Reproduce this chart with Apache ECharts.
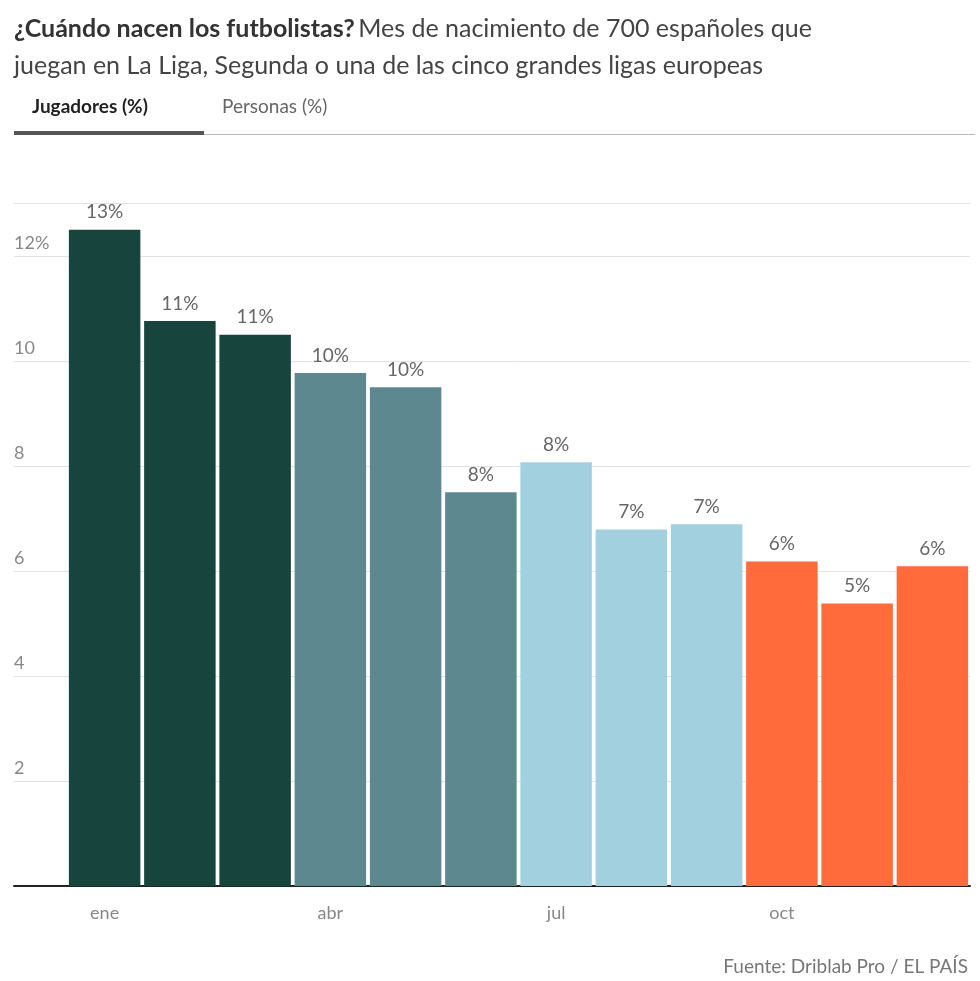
<!DOCTYPE html>
<html>
<head>
<meta charset="utf-8">
<script src="https://cdn.jsdelivr.net/npm/echarts@6/dist/echarts.min.js"></script>
<style>html,body{margin:0;padding:0;background:#fff}</style>
</head>
<body>
<div id="chart" style="width:980px;height:981px"></div>
<script>
var meses = ['ene','feb','mar','abr','may','jun','jul','ago','sep','oct','nov','dic'];
var jugadores = [12.5, 10.76, 10.5, 9.77, 9.5, 7.5, 8.07, 6.79, 6.89, 6.18, 5.38, 6.09];
var colores = ['#17453e','#17453e','#17453e','#5e8890','#5e8890','#5e8890',
               '#a2d0df','#a2d0df','#a2d0df','#ff6b3a','#ff6b3a','#ff6b3a'];
var etiquetasMes = ['ene','abr','jul','oct'];

var chart = echarts.init(document.getElementById('chart'));
var fuente = 'Lato, "Open Sans", sans-serif';

var option = {
  animation: false,
  textStyle: { fontFamily: fuente },
  grid: [
    { left: 67, right: 10, top: 203.5, bottom: 95 },
    { left: 14, width: 53, top: 203.5, bottom: 95 }
  ],
  xAxis: [
    {
      type: 'category', data: meses, gridIndex: 0,
      axisLine: { lineStyle: { color: '#222', width: 2 } },
      axisTick: { show: false },
      axisLabel: {
        color: '#888', fontSize: 18, margin: 18, align: 'center',
        formatter: function (v) { return etiquetasMes.indexOf(v) >= 0 ? v : ''; }
      }
    },
    { type: 'value', gridIndex: 1, min: 0, max: 1,
      axisLine: { show: true, onZero: false, lineStyle: { color: '#222', width: 2 } },
      axisTick: { show: false }, axisLabel: { show: false }, splitLine: { show: false } }
  ],
  yAxis: [
    { type: 'value', gridIndex: 0, min: 0, max: 13, interval: 2,
      axisLine: { show: false }, axisTick: { show: false }, axisLabel: { show: false },
      splitLine: { lineStyle: { color: '#e2e2e2' } } },
    { type: 'value', gridIndex: 1, min: 0, max: 13, interval: 2,
      axisLine: { show: false }, axisTick: { show: false },
      splitLine: { lineStyle: { color: '#e2e2e2' } },
      axisLabel: {
        inside: true, align: 'left', verticalAlign: 'bottom', margin: 0,
        color: '#888', fontSize: 18, padding: [0, 0, 4, 0],
        formatter: function (v) { return v === 0 || v > 12 ? '' : (v === 12 ? '12%' : v); }
      } }
  ],
  series: [{
    type: 'bar', xAxisIndex: 0, yAxisIndex: 0,
    data: jugadores.map(function (v, i) { return { value: v, itemStyle: { color: colores[i] } }; }),
    barCategoryGap: '5%',
    label: {
      show: true, position: 'top', distance: 8, color: '#666', fontSize: 19,
      formatter: function (p) { return Math.round(p.value) + '%'; }
    }
  }],
  graphic: [
    { type: 'text', left: 14, top: 10, style: {
        rich: { b: { fontWeight: 'bold', fontSize: 25, fill: '#333', fontFamily: fuente },
                n: { fontSize: 25, fill: '#444', fontFamily: fuente } },
        text: '{b|¿Cuándo nacen los futbolistas?} {n|Mes de nacimiento de 700 españoles que}\n{n|juegan en La Liga, Segunda o una de las cinco grandes ligas europeas}',
        lineHeight: 37 } },
    { type: 'text', left: 32, top: 97, style: { text: 'Jugadores (%)', fontWeight: 'bold', fontSize: 19, fill: '#222', fontFamily: fuente } },
    { type: 'text', left: 222, top: 97, style: { text: 'Personas (%)', fontSize: 19, fill: '#666', fontFamily: fuente } },
    { type: 'rect', shape: { x: 14, y: 134, width: 961, height: 1 }, style: { fill: '#bbb' } },
    { type: 'rect', shape: { x: 14, y: 131, width: 190, height: 4 }, style: { fill: '#555' } },
    { type: 'text', right: 12, top: 957, style: { text: 'Fuente: Driblab Pro / EL PAÍS', fontSize: 19, fill: '#777', fontFamily: fuente } }
  ]
};
chart.setOption(option);
</script>
</body>
</html>
